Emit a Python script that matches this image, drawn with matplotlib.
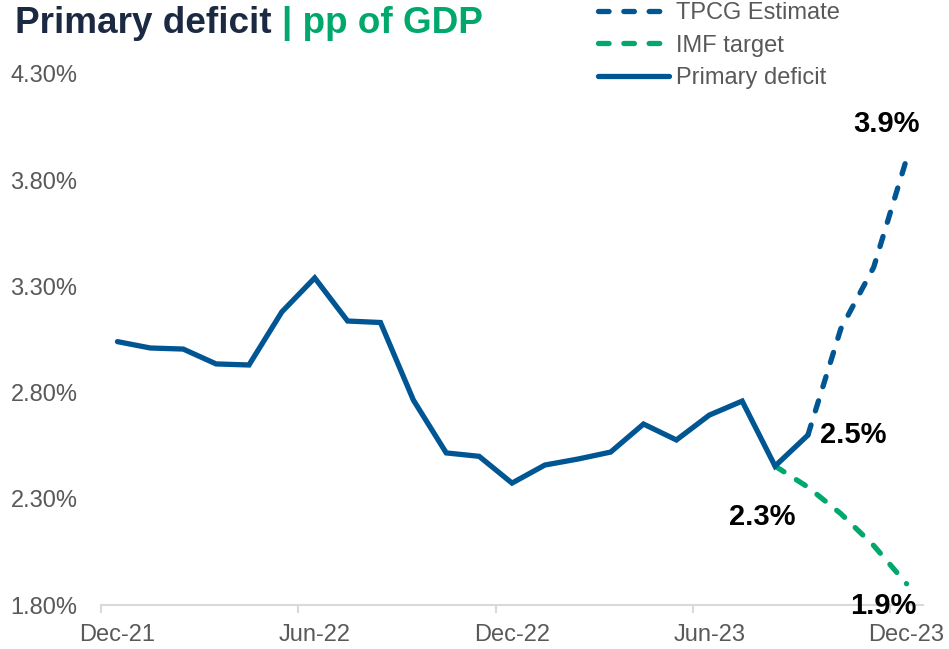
import matplotlib.pyplot as plt
from matplotlib.lines import Line2D
from matplotlib.ticker import FixedLocator, FuncFormatter

plt.rcParams["font.family"] = ["Liberation Sans", "DejaVu Sans"]

months = ["Dec-21", "Jan-22", "Feb-22", "Mar-22", "Apr-22", "May-22", "Jun-22",
          "Jul-22", "Aug-22", "Sep-22", "Oct-22", "Nov-22", "Dec-22",
          "Jan-23", "Feb-23", "Mar-23", "Apr-23", "May-23", "Jun-23",
          "Jul-23", "Aug-23", "Sep-23", "Oct-23", "Nov-23", "Dec-23"]

# primary deficit, Dec-21 .. Sep-23
primary = [3.04, 3.01, 3.005, 2.935, 2.93, 3.18, 3.34, 3.137, 3.13, 2.765,
           2.516, 2.50, 2.374, 2.459, 2.487, 2.52, 2.652, 2.577, 2.694, 2.76,
           2.454, 2.60]
# TPCG estimate, Sep-23 .. Dec-23
tpcg = [2.60, 3.10, 3.39, 3.90]
# IMF target, Aug-23 .. Dec-23
imf = [2.454, 2.355, 2.23, 2.08, 1.90]

yticks = [1.80, 2.30, 2.80, 3.30, 3.80, 4.30]

BLUE = "#005593"
GREEN = "#00a86b"
NAVY = "#1b2a42"
GREY = "#595959"

x = list(range(len(months)))
x_primary = x[:len(primary)]
x_tpcg = x[len(primary) - 1:]
x_imf = x[len(primary) - 2:]

fig = plt.figure(figsize=(9.49, 6.49), dpi=100)
ax = fig.add_axes([101 / 949, 44 / 649, 822 / 949, 531 / 649])

lw = 3.8
dash = (2.0, 2.8)
ax.plot(x_tpcg, tpcg, color=BLUE, lw=lw, dashes=dash, dash_capstyle="round")
ax.plot(x_imf, imf, color=GREEN, lw=lw, dashes=dash, dash_capstyle="round")
ax.plot(x_primary, primary, color=BLUE, lw=lw, solid_capstyle="round",
        solid_joinstyle="miter")

ax.set_xlim(-0.5, len(months) - 0.5)
ax.set_ylim(yticks[0], yticks[-1])
ax.set_yticks(yticks)
ax.yaxis.set_major_formatter(FuncFormatter(lambda v, p: f"{v:.2f}%"))
ax.set_xticks(x[::6])
ax.set_xticklabels(months[::6])
ax.xaxis.set_minor_locator(FixedLocator([i - 0.5 for i in x[::6]]))

for s in ["top", "right", "left"]:
    ax.spines[s].set_visible(False)
ax.spines["bottom"].set_color("#d9d9d9")
ax.spines["bottom"].set_linewidth(1.5)
ax.tick_params(axis="y", length=0, pad=17, labelsize=17, labelcolor=GREY)
ax.tick_params(axis="x", which="major", length=0, pad=14, labelsize=17,
               labelcolor=GREY)
ax.tick_params(axis="x", which="minor", length=6, width=1.5, color="#d9d9d9")

# data labels
lab = dict(fontsize=21, fontweight="bold", color="black",
           textcoords="offset pixels", ha="center", va="center")
ax.annotate("3.9%", (x_tpcg[-1], tpcg[-1]), xytext=(-20, 35), **lab)
ax.annotate("2.5%", (x_tpcg[0], tpcg[0]), xytext=(45, 0), **lab)
ax.annotate("2.3%", (x_imf[0], imf[0]), xytext=(-13, -51), **lab)
ax.annotate("1.9%", (x_imf[-1], imf[-1]), xytext=(-23, -22), **lab)

# title in two colours
t1 = fig.text(15 / 949, 1 - 33 / 649, "Primary deficit", fontsize=26.6,
              fontweight="bold", color=NAVY, va="baseline")
fig.canvas.draw()
bb = t1.get_window_extent()
fig.text((bb.x1 + 10) / 949, 1 - 33 / 649, "| pp of GDP", fontsize=26.6,
         fontweight="bold", color=GREEN, va="baseline")

handles = [
    Line2D([], [], color=BLUE, lw=lw, dashes=dash, dash_capstyle="round"),
    Line2D([], [], color=GREEN, lw=lw, dashes=dash, dash_capstyle="round"),
    Line2D([], [], color=BLUE, lw=lw, solid_capstyle="round"),
]
fig.legend(handles, ["TPCG Estimate", "IMF target", "Primary deficit"],
           loc="upper left", bbox_to_anchor=(598 / 949, 1 - 2 / 649),
           frameon=False, fontsize=17, labelcolor=GREY, handlelength=3.0,
           handletextpad=0.3, labelspacing=0.45, borderpad=0, borderaxespad=0)

fig.savefig("out.png", dpi=100)
